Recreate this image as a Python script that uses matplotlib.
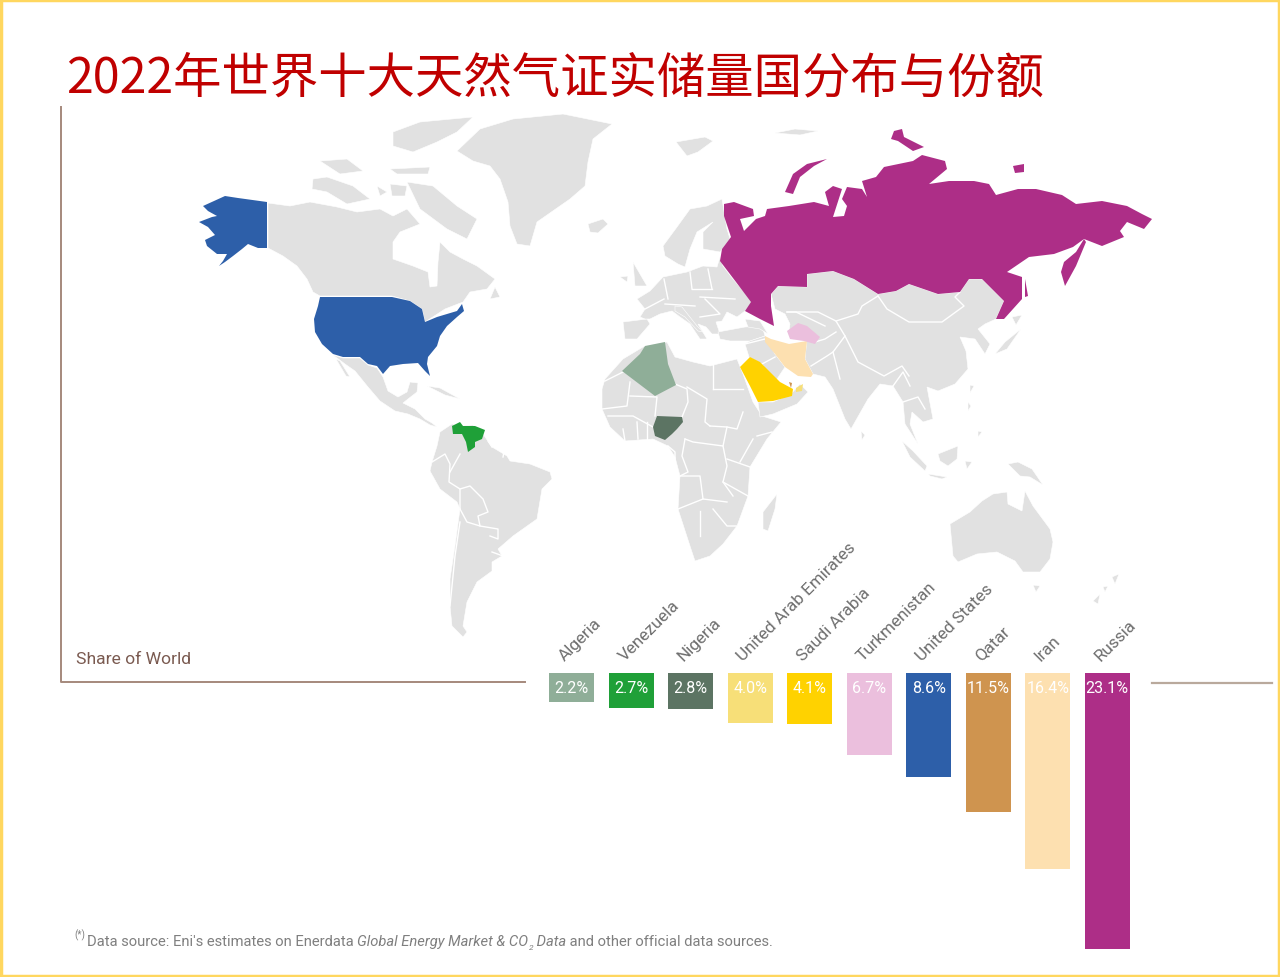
import matplotlib
matplotlib.use("Agg")
import matplotlib.pyplot as plt
from matplotlib.patches import Polygon, Rectangle
import numpy as np

plt.rcParams['font.family'] = ['Noto Sans CJK SC', 'DejaVu Sans']

# bar chart data
countries = ["Algeria", "Venezuela", "Nigeria", "United Arab Emirates", "Saudi Arabia",
             "Turkmenistan", "United States", "Qatar", "Iran", "Russia"]
shares = [2.2, 2.7, 2.8, 4.0, 4.1, 6.7, 8.6, 11.5, 16.4, 23.1]
bar_colors = ["#8fae98", "#1fa038", "#5c7463", "#f7df78", "#ffd200",
              "#ebbfdd", "#2d5fa9", "#cf944f", "#fde0b0", "#ad2e87"]

title = "2022年世界十大天然气证实储量国分布与份额"

# map outlines (x, y in image units)
canada = [(268,204),(290,207),(310,203),(337,208),(357,213),(380,210),(393,217),(407,210),(420,225),(400,233),
          (393,243),(393,260),(413,267),(428,273),(430,288),(437,287),(438,263),(440,243),(450,253),(463,260),
          (477,267),(495,280),(487,290),(470,293),(463,303),(445,310),(425,323),(422,310),(410,302),(392,297),
          (320,297),(313,293),(307,280),(297,267),(283,257),(268,249)]
arctic_1 = [(313,180),(327,178),(353,187),(370,200),(347,205),(327,193),(312,190)]
arctic_2 = [(320,162),(347,160),(363,172),(340,175)]
arctic_3 = [(390,185),(407,187),(405,197),(392,197)]
arctic_4 = [(377,187),(387,193),(380,197)]
baffin = [(407,183),(433,187),(457,207),(477,220),(467,240),(447,230),(420,210)]
ellesmere = [(393,133),(420,123),(473,118),(457,133),(437,143),(413,153),(393,147)]
devon = [(390,170),(430,168),(428,175),(397,175)]
newfoundland = [(490,300),(500,298),(495,288)]
greenland = [(457,152),(480,130),(513,120),(563,115),(612,125),(593,140),(588,163),(585,187),(570,200),(537,223),
             (530,247),(517,245),(510,227),(508,203),(500,180),(490,167),(473,162)]
iceland = [(588,225),(603,220),(608,225),(598,234),(590,233)]
mexico = [(333,356),(343,359),(360,359),(368,366),(377,369),(383,378),(388,392),(398,398),(407,393),(410,383),
          (418,384),(417,393),(408,400),(403,404),(415,410),(425,420),(432,424),(437,428),(430,426),(420,420),
          (408,415),(395,412),(380,402),(368,388),(355,372),(345,365)]
baja = [(336,360),(340,362),(350,378),(346,377)]
cuba = [(427,387),(440,389),(460,400),(445,396)]
south_america = [(452,425),(440,433),(437,447),(432,463),(430,472),(440,490),(457,503),(460,510),(455,547),(450,580),
                 (450,607),(452,627),(463,638),(467,633),(463,627),(467,603),(477,583),(492,572),(492,563),(502,557),
                 (498,550),(513,537),(537,520),(542,490),(552,480),(550,473),(530,465),(510,462),(507,457),(492,448),
                 (483,435),(473,426),(460,427)]
africa = [(602,390),(605,380),(623,360),(643,348),(667,343),(675,358),(693,363),(710,367),(737,360),(743,375),
          (753,403),(762,417),(781,423),(767,440),(750,468),(748,497),(737,527),(723,545),(710,557),(695,562),
          (690,547),(678,510),(680,477),(675,458),(668,447),(653,440),(625,442),(610,428),(602,410)]
madagascar = [(777,495),(775,510),(768,532),(763,530),(763,513)]
scandinavia = [(663,247),(677,228),(690,210),(707,207),(722,200),(727,230),(730,240),(720,253),(703,250),(703,233),
               (713,223),(697,233),(690,250),(685,268),(678,265),(665,257)]
britain = [(633,263),(647,287),(635,287)]
ireland = [(620,278),(628,277),(627,283)]
iberia = [(623,323),(647,320),(650,325),(637,340),(625,340)]
europe = [(637,300),(650,292),(663,278),(687,273),(703,267),(717,268),(720,258),(723,267),(733,280),(753,303),
          (745,312),(737,318),(727,313),(722,322),(716,323),(720,335),(712,335),(706,328),(698,325),(707,340),
          (700,340),(690,325),(680,318),(672,312),(660,315),(650,320),(645,320),(640,318),(645,310)]
italy = [(675,307),(682,308),(697,327),(703,333),(698,332),(685,318),(675,312)]
turkey = [(718,333),(745,328),(762,327),(765,337),(750,342),(730,342),(720,340)]
caucasus = [(745,320),(760,322),(768,335),(760,330),(748,328)]
levant = [(750,342),(765,337),(775,355),(785,368),(775,383),(762,365),(749,358),(745,345)]
yemen_oman = [(791,395),(800,385),(808,393),(797,405),(773,415),(760,418),(758,403),(773,403)]
asia = [(771,295),(778,287),(807,288),(807,275),(833,272),(854,280),(878,295),(896,292),(909,285),(938,295),
        (960,293),(969,280),(982,280),(1004,302),(996,320),(985,325),(978,330),(990,345),(985,355),(975,340),
        (960,338),(966,352),(968,370),(955,385),(938,392),(927,388),(933,420),(923,423),(912,413),(910,425),
        (918,445),(905,425),(903,403),(893,387),(880,385),(868,400),(851,430),(845,420),(833,390),(825,378),
        (813,375),(805,360),(807,340),(814,343),(818,337),(798,325),(789,332),(790,325),(785,315),(775,310)]
svalbard = [(676,143),(705,138),(713,142),(698,153),(687,157)]
franz_josef = [(775,134),(795,130),(818,132),(800,136)]
japan = [(1021,330),(1007,350),(995,355),(1005,343)]
hokkaido = [(1012,318),(1022,316),(1016,326)]
taiwan = [(970,386),(974,387),(970,394)]
philippines_1 = [(968,403),(971,407),(968,412)]
philippines_2 = [(978,432),(982,433),(978,438)]
borneo = [(938,455),(958,447),(957,460),(948,467),(940,462)]
sumatra = [(902,442),(913,452),(927,467),(925,472),(910,458)]
java = [(928,475),(947,478),(942,480),(930,477)]
sulawesi = [(965,462),(972,463),(967,470)]
new_guinea = [(1008,465),(1018,463),(1032,470),(1043,486),(1030,478),(1020,477),(1013,470)]
australia = [(950,525),(970,513),(982,502),(993,495),(1007,493),(1008,505),(1022,512),(1025,492),(1033,507),(1050,530),
             (1053,543),(1050,560),(1040,573),(1023,573),(1015,562),(1007,558),(997,553),(977,555),(958,563),(953,557)]
tasmania = [(1033,586),(1040,587),(1036,593)]
nz_1 = [(1112,578),(1119,575),(1115,585)]
nz_2 = [(1103,588),(1108,587),(1105,593)]
nz_3 = [(1093,602),(1100,595),(1098,605)]
sri_lanka = [(861,432),(865,436),(862,441)]

land = [canada, arctic_1, arctic_2, arctic_3, arctic_4, baffin, ellesmere, devon, newfoundland, greenland, iceland,
        mexico, baja, cuba, south_america, africa, madagascar, scandinavia, britain, ireland, iberia, europe, italy,
        turkey, caucasus, levant, yemen_oman, asia, svalbard, franz_josef, japan, hokkaido, taiwan, philippines_1,
        philippines_2, borneo, sumatra, java, sulawesi, new_guinea, australia, tasmania, nz_1, nz_2, nz_3, sri_lanka]

# white country borders
borders = [
    [(605,382),(625,372)], [(602,410),(627,407),(630,383)], [(630,397),(657,398),(655,417)],
    [(608,417),(633,417),(653,428)], [(675,385),(687,390),(688,403),(682,418)], [(713,363),(713,390)],
    [(687,388),(707,400),(705,423),(710,427)], [(713,390),(743,390)], [(743,413),(737,430),(727,428),(710,427)],
    [(685,440),(693,443),(723,447),(727,428)], [(757,437),(772,433)], [(740,463),(753,440)],
    [(723,447),(727,467),(723,483),(733,497)], [(727,460),(750,468)], [(723,483),(748,497)],
    [(680,477),(700,477),(703,500),(678,510)], [(700,512),(700,537)], [(703,500),(727,503)],
    [(713,510),(727,527),(737,527)], [(668,447),(675,453),(675,467)], [(685,440),(682,457),(688,473),(680,477)],
    [(623,430),(625,442)], [(637,423),(638,440)], [(647,423),(647,440)],
    [(432,463),(445,455),(450,465),(449,483),(460,490),(460,510)], [(460,455),(450,473)],
    [(460,490),(470,487),(483,500),(488,513),(478,517),(480,527),(467,523),(460,510)],
    [(480,527),(498,530),(498,540),(490,537)], [(460,523),(455,557),(450,607)], [(492,553),(503,557)],
    [(492,448),(488,442)], [(505,448),(503,458)],
    [(664,280),(668,300)], [(690,273),(692,290)], [(708,270),(712,290)], [(665,305),(695,307)],
    [(700,298),(735,300)], [(705,300),(720,315),(700,318)], [(645,310),(664,300)], [(692,290),(712,290)],
    [(787,313),(818,313),(836,322),(858,315),(862,307),(878,297)],
    [(878,297),(887,310),(909,323),(942,323),(964,307),(955,298),(960,293)],
    [(836,322),(845,337),(858,363),(884,377),(902,367),(909,377)], [(845,337),(833,353),(840,380)],
    [(815,343),(825,340),(836,333)], [(811,367),(827,357),(833,353)], [(787,313),(796,313),(825,327)],
    [(893,387),(903,373),(910,387)], [(903,403),(918,398),(925,410)], [(745,345),(765,340)],
    [(762,365),(775,358)],
]

# highlighted countries
alaska = [(203,207),(225,197),(238,199),(267,203),(267,249),(258,249),(248,245),(242,250),(233,257),(225,263),
          (219,267),(223,262),(227,255),(217,255),(207,247),(205,241),(215,236),(208,228),(199,223),(212,218),
          (217,217),(208,212)]
usa = [(320,298),(392,298),(410,302),(422,310),(425,323),(437,318),(457,312),(462,305),(464,312),(457,318),
       (447,327),(440,337),(437,347),(428,358),(427,365),(430,377),(425,372),(418,364),(403,365),(390,367),
       (383,375),(377,367),(368,365),(360,358),(343,358),(333,355),(322,345),(315,333),(314,320),(318,307)]
russia = [(724,205),(734,203),(753,210),(754,217),(740,220),(744,232),(756,220),(765,217),(767,210),(789,207),
          (814,203),(829,207),(825,193),(833,187),(842,190),(833,218),(844,217),(847,207),(842,200),(847,188),
          (862,190),(867,198),(862,182),(876,178),(884,168),(913,162),(922,156),(945,162),(947,170),(929,185),
          (949,182),(974,182),(989,185),(996,196),(1018,190),(1036,190),(1062,196),(1076,205),(1102,202),(1127,207),
          (1142,215),(1152,220),(1144,230),(1127,223),(1120,232),(1124,238),(1102,247),(1084,240),(1073,248),(1054,255),
          (1029,258),(1007,273),(1022,278),(1022,300),(1004,320),(996,320),(1004,302),(982,280),(969,280),(960,293),
          (938,295),(909,285),(896,292),(878,295),(854,280),(833,272),(807,275),(807,288),(778,287),(771,295),
          (771,307),(774,327),(760,320),(745,312),(751,303),(736,283),(720,262),(722,250),(731,238),(724,217)]
novaya_zemlya = [(785,193),(793,175),(807,165),(827,160),(814,167),(800,178),(793,195)]
severnaya = [(894,132),(902,130),(904,138),(924,148),(913,152),(898,142),(891,140)]
new_siberian = [(1013,167),(1024,165),(1024,173),(1015,174)]
kamchatka = [(1084,240),(1076,253),(1064,263),(1061,273),(1065,287),(1076,267),(1086,243)]
sakhalin = [(1025,280),(1028,297),(1025,298)]
iran = [(765,337),(771,340),(789,345),(807,342),(805,360),(813,375),(811,378),(798,377),(785,368),(775,355),(765,343)]
turkmenistan = [(787,332),(798,324),(807,327),(820,338),(815,345),(804,342),(790,340)]
saudi = [(740,368),(750,358),(760,363),(780,383),(793,390),(792,397),(773,402),(758,403),(750,387)]
algeria = [(622,372),(640,355),(645,347),(665,343),(668,365),(676,386),(655,397)]
nigeria = [(657,417),(682,418),(683,423),(677,430),(672,435),(665,441),(655,437),(653,428)]
venezuela = [(452,427),(460,423),(463,427),(475,427),(485,431),(482,440),(475,443),(475,448),(468,453),(466,443),
             (462,435),(453,435)]
qatar = [(789,383),(792,384),(791,389)]
uae = [(796,389),(803,385),(802,392),(796,393)]

highlighted = [
    (alaska, bar_colors[6]), (usa, bar_colors[6]),
    (russia, bar_colors[9]), (novaya_zemlya, bar_colors[9]), (severnaya, bar_colors[9]),
    (new_siberian, bar_colors[9]), (kamchatka, bar_colors[9]), (sakhalin, bar_colors[9]),
    (iran, bar_colors[8]), (turkmenistan, bar_colors[5]), (saudi, bar_colors[4]),
    (algeria, bar_colors[0]), (nigeria, bar_colors[2]), (venezuela, bar_colors[1]),
    (qatar, bar_colors[7]), (uae, bar_colors[3]),
]

fig = plt.figure(figsize=(12.8, 9.78), dpi=100)
W, H = 1280, 978

ax = fig.add_axes([0, 0, 1, 1])
ax.set_xlim(0, W)
ax.set_ylim(H, 0)
ax.axis("off")

# the map
for shape in land:
    ax.add_patch(Polygon(shape, closed=True, fc="#e1e1e1", ec="white", lw=0.4, zorder=1))
for line in borders:
    pts = np.array(line)
    ax.plot(pts[:, 0], pts[:, 1], color="white", lw=1.0, zorder=2)
for shape, col in highlighted:
    ax.add_patch(Polygon(shape, closed=True, fc=col, ec="none", zorder=3))

# frame and axis lines
ax.add_patch(Rectangle((1, 1), W - 2, H - 2, fc="none", ec="#ffd75f", lw=2.5, zorder=5))
ax.plot([61, 61, 525], [108, 683, 683], color="#a5897c", lw=1.4, zorder=4)
ax.plot([1152, 1272], [684, 684], color="#b9a99c", lw=1.6, zorder=4)

ax.text(66, 92, title, color="#c00000", fontsize=34.85, va="baseline", ha="left", zorder=6)

narrow = ["Roboto", "DejaVu Sans"]
ax.text(76, 664, "Share of World", color="#7a5a50", fontsize=12.6, family=narrow, va="baseline", zorder=6)

# footnote, drawn piece by piece because of the italics
pieces = [("(*)", 7, "normal", 938), ("Data source: Eni's estimates on Enerdata ", 10.6, "normal", 946),
          ("Global Energy Market & CO", 10.6, "italic", 946), ("2", 6, "italic", 950),
          (" Data", 10.6, "italic", 946), (" and other official data sources.", 10.6, "normal", 946)]
renderer = fig.canvas.get_renderer()
x_pos = 74
for txt, size, style, y_pos in pieces:
    t = ax.text(x_pos, y_pos, txt, color="#7f7f7f", fontsize=size, style=style, family=narrow,
                va="baseline", ha="left", zorder=6)
    x_pos += t.get_window_extent(renderer).width + (2 if txt == "(*)" else 0)

# bars hang down from just above the zero line
bx = fig.add_axes([542 / W, 1 - 950 / H, 595 / W, 276 / H])
bx.patch.set_alpha(0)
bx.set_xlim(-0.5, 9.5)
bx.set_ylim(23.14, -0.25)
bx.axis("off")
pos = np.arange(len(countries))
bx.bar(pos, np.array(shares) + 0.25, bottom=-0.25, width=0.756, color=bar_colors, zorder=3)
for i, v in enumerate(shares):
    bx.text(i, 1.0, f"{v:.1f}%", color="white", fontsize=11.5, family=narrow, ha="center", va="center", zorder=6)
    bx.annotate(countries[i], (i, -0.25), xytext=(-5, 9), textcoords="offset points", color="#6e6e6e",
                fontsize=12.3, family=narrow, rotation=45, rotation_mode="anchor", ha="left", va="baseline",
                annotation_clip=False, zorder=6)

fig.savefig("out.png", dpi=100, facecolor="white")
